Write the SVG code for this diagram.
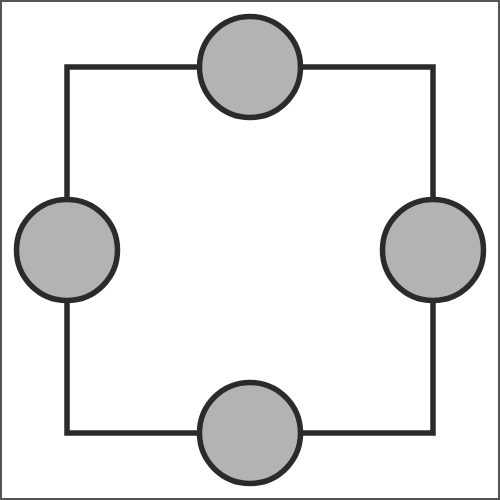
<svg xmlns="http://www.w3.org/2000/svg" width="500" height="500" viewBox="0 0 500 500">
<style>
.node{fill:#b3b3b3;stroke:#2b2b2b;stroke-width:5.5}
.edge{fill:none;stroke:#2b2b2b;stroke-width:5.5}
</style>
<rect x="0" y="0" width="500" height="500" fill="#ffffff"/>
<rect x="1" y="1" width="498" height="498" fill="none" stroke="#555555" stroke-width="2"/>
<g id="connectors">
<path class="edge" d="M67 67 H433 V433 H67 Z"/>
</g>
<g id="node-top"><circle class="node" cx="250" cy="67" r="50.5"/></g>
<g id="node-left"><circle class="node" cx="67" cy="250" r="50.5"/></g>
<g id="node-right"><circle class="node" cx="433" cy="250" r="50.5"/></g>
<g id="node-bottom"><circle class="node" cx="250" cy="433" r="50.5"/></g>
</svg>
